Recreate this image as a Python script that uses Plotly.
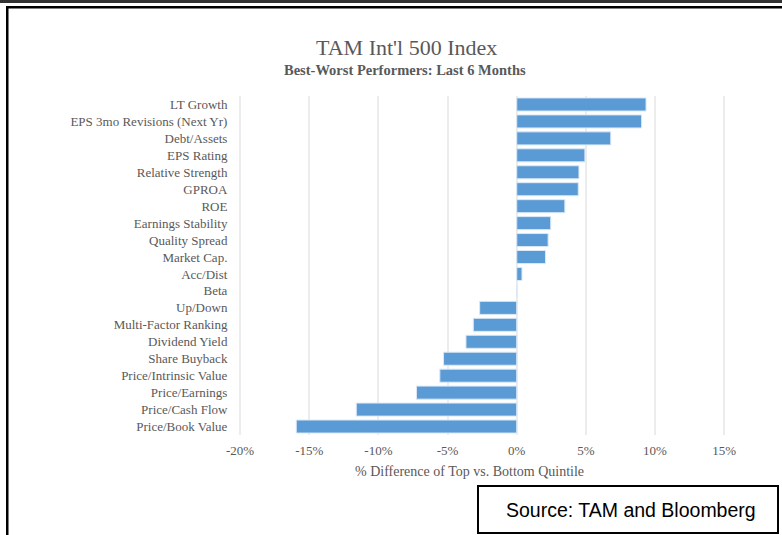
import plotly.graph_objects as go

categories = ["LT Growth", "EPS 3mo Revisions (Next Yr)", "Debt/Assets", "EPS Rating",
              "Relative Strength", "GPROA", "ROE", "Earnings Stability", "Quality Spread",
              "Market Cap.", "Acc/Dist", "Beta", "Up/Down", "Multi-Factor Ranking",
              "Dividend Yield", "Share Buyback", "Price/Intrinsic Value", "Price/Earnings",
              "Price/Cash Flow", "Price/Book Value"]
values = [9.35, 9.03, 6.8, 4.93, 4.5, 4.45, 3.48, 2.46, 2.27, 2.08, 0.38, 0.0,
          -2.68, -3.14, -3.67, -5.29, -5.56, -7.25, -11.6, -15.94]
tick_vals = [-20, -15, -10, -5, 0, 5, 10, 15]
tick_text = ["-20%", "-15%", "-10%", "-5%", "0%", "5%", "10%", "15%"]

W, H = 782, 535
L, R, T, B = 239, 0, 96, 100
PW = W - L - R
PH = H - T - B

def px(x):
    return (x - L) / PW

def py(y):
    return (H - B - y) / PH

SERIF = "Liberation Serif"
GRAY = "#595959"

fig = go.Figure(go.Bar(
    y=categories, x=values, orientation="h",
    marker=dict(color="#5B9BD5", line=dict(color="#dbe8f6", width=1)),
    hoverinfo="x+y",
))

fig.update_layout(
    width=W, height=H,
    margin=dict(l=L, r=R, t=T, b=B, pad=0),
    paper_bgcolor="white", plot_bgcolor="white",
    showlegend=False, bargap=0.23,
    font=dict(family=SERIF, color=GRAY, size=13),
)
fig.update_xaxes(
    range=[-20.08, 19.18], tickvals=tick_vals, ticktext=tick_text,
    showgrid=True, gridcolor="#ececec", gridwidth=1.5, zeroline=False,
    showline=False, ticks="outside", ticklen=3, tickcolor="rgba(0,0,0,0)",
    tickfont=dict(family=SERIF, size=13, color=GRAY), fixedrange=True,
)
fig.update_yaxes(
    autorange="reversed", showgrid=False, zeroline=False, showline=False,
    ticks="outside", ticklen=8, tickcolor="rgba(0,0,0,0)",
    tickfont=dict(family=SERIF, size=13, color=GRAY), fixedrange=True,
)

ann = [
    dict(text="TAM Int'l 500 Index", x=px(406), y=py(47), font=dict(family=SERIF, size=22, color=GRAY)),
    dict(text="<b>Best-Worst Performers: Last 6 Months</b>", x=px(405), y=py(70), font=dict(family=SERIF, size=14.5, color=GRAY)),
    dict(text="% Difference of Top vs. Bottom Quintile", x=px(469), y=py(471), font=dict(family=SERIF, size=14, color=GRAY)),
    dict(text="Source: TAM and Bloomberg", x=px(631), y=py(510), font=dict(family="Liberation Sans", size=19.5, color="black")),
]
for a in ann:
    a.update(xref="paper", yref="paper", showarrow=False, xanchor="center", yanchor="middle")
fig.update_layout(annotations=ann)

shapes = [
    dict(type="rect", x0=px(0), x1=px(782), y0=py(0), y1=py(3), fillcolor="#333333", line=dict(width=0)),
    dict(type="rect", x0=px(6), x1=px(782), y0=py(6), y1=py(8.5), fillcolor="black", line=dict(width=0)),
    dict(type="rect", x0=px(6), x1=px(8.5), y0=py(6), y1=py(535), fillcolor="black", line=dict(width=0)),
    dict(type="rect", x0=px(478), x1=px(778), y0=py(486), y1=py(533), fillcolor="white", line=dict(color="black", width=2)),
]
for s in shapes:
    s.update(xref="paper", yref="paper", layer="above")
fig.update_layout(shapes=shapes)

fig.write_html("out.html", config={"displayModeBar": False},
               post_script="document.body.style.margin='0px';document.body.style.overflow='hidden';")
